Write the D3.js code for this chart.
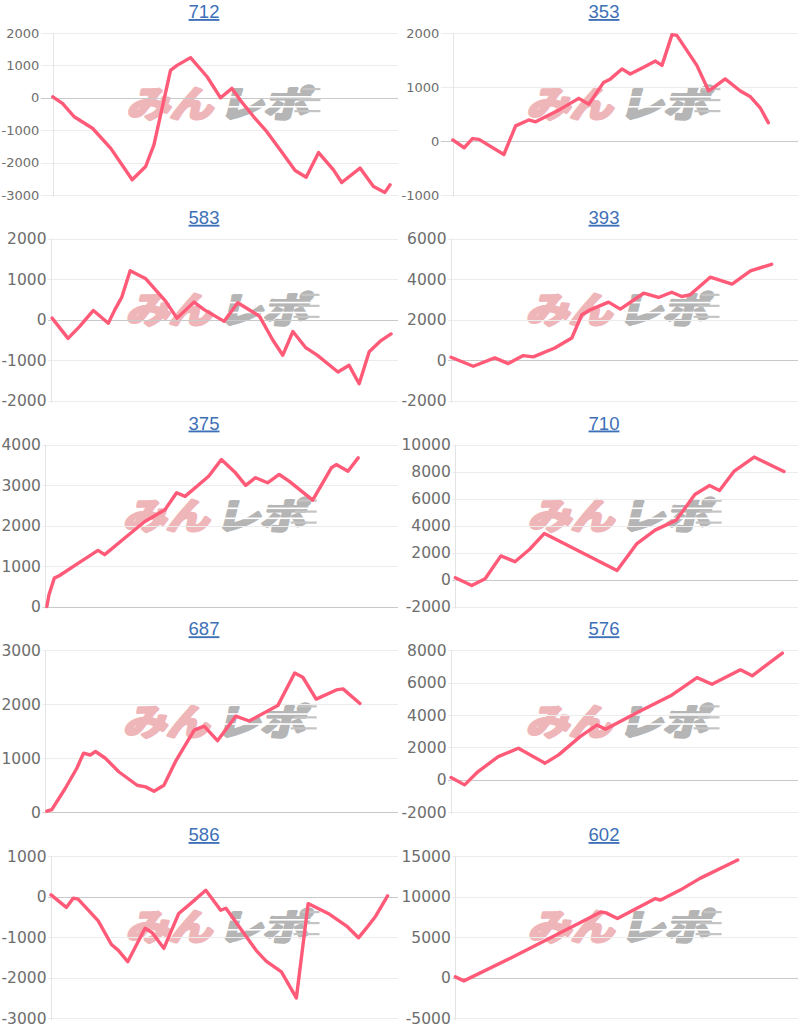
<!DOCTYPE html>
<html>
<head>
<meta charset="utf-8">
<script src="https://cdn.jsdelivr.net/npm/d3@7"></script>
<style>
  html, body { margin: 0; padding: 0; background: #fff; }
  svg { display: block; }
</style>
</head>
<body>
<svg id="chart" width="800" height="1030"></svg>
<script>
// ---------- DATA ----------
const titles = ["712", "353", "583", "393", "375", "710", "687", "576", "586", "602"];

// y-axis tick labels per chart
const ticks712 = [2000, 1000, 0, -1000, -2000, -3000];
const ticks353 = [2000, 1000, 0, -1000];
const ticks583 = [2000, 1000, 0, -1000, -2000];
const ticks393 = [6000, 4000, 2000, 0, -2000];
const ticks375 = [4000, 3000, 2000, 1000, 0];
const ticks710 = [10000, 8000, 6000, 4000, 2000, 0, -2000];
const ticks687 = [3000, 2000, 1000, 0];
const ticks576 = [8000, 6000, 4000, 2000, 0, -2000];
const ticks586 = [1000, 0, -1000, -2000, -3000];
const ticks602 = [15000, 10000, 5000, 0, -5000];

// series: [progress (0-100 along the x category axis), cumulative value]
const s712 = [[0,30],[2.8,-170],[6.2,-585],[11.5,-940],[16.8,-1560],[23,-2530],[26.9,-2120],[29.3,-1455],[34.1,850],[36,1000],[39.9,1240],[44.7,650],[48.6,0],[51.9,290],[54.3,-70],[58.2,-585],[62,-1045],[65.9,-1610],[70.2,-2245],[73.4,-2450],[77,-1690],[81.3,-2225],[83.7,-2615],[89,-2170],[92.9,-2740],[96.2,-2920],[97.7,-2685]];
const s353 = [[0,20],[3.3,-125],[5.7,45],[7.6,30],[14.8,-250],[18.2,280],[22,390],[24,355],[31.2,590],[36.5,790],[39.4,680],[43.7,1085],[45.7,1150],[49,1335],[51.4,1240],[55.3,1365],[58.7,1480],[60.6,1400],[63.5,1970],[64.9,1955],[70.7,1400],[74.1,930],[76,1010],[78.9,1150],[83.2,930],[86.1,825],[89,620],[91.4,340]];
const s583 = [[0.3,40],[4.9,-460],[8.2,-170],[12.2,230],[16.5,-85],[18.4,250],[20.4,560],[22.8,1210],[27.2,1020],[33,460],[36.3,40],[41.2,435],[44.1,250],[49.9,-40],[53.8,420],[60.1,85],[63.9,-500],[66.8,-875],[69.7,-290],[73.3,-680],[76.7,-875],[82.7,-1290],[85.9,-1125],[88.8,-1580],[91.7,-790],[95.1,-515],[98,-350]];
const s393 = [[0,150],[6.4,-295],[12.6,115],[16.5,-165],[20.8,230],[23.7,165],[29.9,605],[34.8,1100],[37.7,2250],[40.1,2490],[45.4,2870],[48.8,2525],[55.5,3310],[59.8,3100],[63.6,3360],[66.5,3150],[68.9,3230],[74.7,4100],[81,3760],[86.3,4415],[92.4,4740]];
const s375 = [[0.4,0],[1,290],[2.5,700],[3.9,760],[10.1,1115],[14.9,1385],[16.8,1280],[22.5,1690],[28.2,2100],[33.9,2390],[37.2,2810],[39.6,2720],[46.3,3215],[49.9,3630],[53.9,3300],[56.8,2990],[59.6,3180],[63,3055],[66.3,3260],[69.1,3095],[75.8,2625],[81.1,3425],[82.5,3505],[85.8,3340],[88.7,3670]];
const s710 = [[0,130],[4.8,-450],[8.7,50],[13.3,1750],[17.4,1320],[21.7,2240],[26,3410],[47.2,670],[53,2660],[58.3,3660],[64.5,4400],[69.9,6300],[74.2,6960],[77.1,6590],[81.4,8030],[87.2,9070],[95.9,8000]];
const s687 = [[0.4,20],[1.8,50],[5.6,440],[8.9,815],[10.8,1095],[12.7,1060],[14.2,1125],[17,1000],[20.8,750],[26,500],[28.4,470],[30.8,390],[33.6,500],[36.9,940],[42.2,1520],[45,1595],[48.8,1325],[54,1780],[57.8,1690],[65.9,1975],[70.7,2580],[73,2500],[76.8,2095],[82.5,2265],[84.4,2285],[89.2,2015]];
const s576 = [[0,145],[3.9,-310],[7.8,510],[13.6,1435],[19.4,1950],[27.1,1030],[31,1540],[37.2,2670],[42.1,3390],[44.5,3125],[54.1,4210],[63.7,5240],[70.9,6310],[75.2,5900],[83.4,6790],[86.8,6420],[95.5,7820]];
const s586 = [[0,40],[4.4,-270],[6.4,-40],[7.8,-65],[13.6,-600],[17.4,-1185],[19.4,-1330],[22.1,-1610],[27.1,-785],[29.1,-890],[32.5,-1280],[36.8,-420],[40.2,-175],[44.6,155],[48.9,-340],[50.4,-290],[59.1,-1330],[62,-1595],[66.4,-1860],[70.7,-2505],[74.1,-175],[80.3,-440],[85.2,-730],[88.6,-1020],[91,-770],[93.6,-480],[97,15]];
const s602 = [[0,80],[2.5,-420],[16.5,2470],[42.5,8100],[44,7980],[47.3,7290],[58.4,9750],[59.8,9550],[65.6,10790],[71.4,12240],[82.4,14500]];

const seriesList = [s712, s353, s583, s393, s375, s710, s687, s576, s586, s602];
const tickList = [ticks712, ticks353, ticks583, ticks393, ticks375, ticks710, ticks687, ticks576, ticks586, ticks602];

// ---------- DRAW ----------
const svg = d3.select("#chart");
const lineColor = "#ff5a78";
const panelW = 400;
const rowH = 205.75;

const meas = svg.append("text").attr("font-family", "DejaVu Sans, Verdana, sans-serif").attr("visibility", "hidden");
function textW(str, size) {
  meas.attr("font-size", size).text(str);
  return meas.node().getComputedTextLength();
}

titles.forEach((title, i) => {
  const col = i % 2, row = Math.floor(i / 2);
  const px = col * panelW;
  const py = row * rowH;
  const ticks = tickList[i];
  const data = seriesList[i];
  const fs = row === 0 ? 13 : 15.5;
  const maxW = d3.max(ticks, t => textW(String(t), fs));
  const labelRight = px + maxW + 1.5;
  const axisX = labelRight + (row === 0 ? 13.5 : 4.5);
  const plotRight = px + 398;
  const plotTop = py + 33, plotBottom = py + 195;

  const x = d3.scaleLinear().domain([0, 100]).range([axisX, plotRight]);
  const y = d3.scaleLinear().domain(d3.extent(ticks)).range([plotBottom, plotTop]);

  const g = svg.append("g");

  // title
  g.append("text")
    .attr("x", px + 204).attr("y", py + 18)
    .attr("text-anchor", "middle")
    .attr("font-family", "Liberation Sans, Arial, sans-serif")
    .attr("font-size", 18.5)
    .attr("fill", "#3d70b7")
    .attr("text-decoration", "underline")
    .text(title);

  // watermark
  const wm = g.append("g")
    .attr("transform", `translate(${(axisX + plotRight) / 2 - 3}, ${py + 102})`);
  wm.append("text")
    .attr("x", -92).attr("y", 0)
    .attr("dominant-baseline", "central")
    .attr("font-family", "Noto Sans CJK JP, sans-serif")
    .attr("font-weight", 700)
    .attr("font-size", 36)
    .attr("textLength", 86)
    .attr("lengthAdjust", "spacingAndGlyphs")
    .attr("fill", "#efb6ba")
    .attr("stroke", "#efb6ba")
    .attr("stroke-width", 3.2)
    .attr("stroke-linejoin", "round")
    .attr("transform", "skewX(-14)")
    .text("みん");
  wm.append("text")
    .attr("x", 0).attr("y", 0)
    .attr("dominant-baseline", "central")
    .attr("font-family", "Noto Sans CJK JP, sans-serif")
    .attr("font-weight", 700)
    .attr("font-size", 36)
    .attr("textLength", 90)
    .attr("lengthAdjust", "spacingAndGlyphs")
    .attr("fill", "#b5b5b5")
    .attr("stroke", "#b5b5b5")
    .attr("stroke-width", 3.2)
    .attr("stroke-linejoin", "round")
    .attr("transform", "skewX(-14)")
    .text("レポ");
  // speed-line stripes through the grey part
  [-6, 4].forEach(dy => {
    wm.append("rect").attr("x", -6).attr("y", dy).attr("width", 108).attr("height", 1.6).attr("fill", "#fff");
  });
  [-14, -3, 8].forEach((dy, k) => {
    wm.append("rect").attr("x", 80 - k * 4).attr("y", dy).attr("width", 18 + k * 4).attr("height", 2.2).attr("fill", "#c4c4c4");
  });

  // gridlines
  const grid = g.append("g");
  grid.selectAll("line.grid").data(ticks).join("line")
    .attr("x1", row === 0 ? axisX - 12 : axisX - 3)
    .attr("x2", plotRight)
    .attr("y1", d => Math.round(y(d)) + 0.5)
    .attr("y2", d => Math.round(y(d)) + 0.5)
    .attr("stroke", d => d === 0 ? "#c9c9c9" : "#ececec")
    .attr("stroke-width", d => d === 0 ? 1.2 : 1);
  grid.append("line")
    .attr("x1", Math.round(axisX) + 0.5).attr("x2", Math.round(axisX) + 0.5)
    .attr("y1", plotTop).attr("y2", plotBottom + 2)
    .attr("stroke", "#e4e4e4");

  // tick labels
  g.selectAll("text.tick").data(ticks).join("text")
    .attr("class", "tick")
    .attr("x", labelRight)
    .attr("y", d => y(d))
    .attr("dy", "0.36em")
    .attr("text-anchor", "end")
    .attr("font-family", "DejaVu Sans, Verdana, sans-serif")
    .attr("font-size", fs)
    .attr("fill", "#6e6e6e")
    .text(d => d);

  // line
  const line = d3.line().x(d => x(d[0])).y(d => y(d[1]));
  g.append("path")
    .datum(data)
    .attr("d", line)
    .attr("fill", "none")
    .attr("stroke", lineColor)
    .attr("stroke-width", 3.4)
    .attr("stroke-linejoin", "round")
    .attr("stroke-linecap", "round");
});
meas.remove();
</script>
</body>
</html>
